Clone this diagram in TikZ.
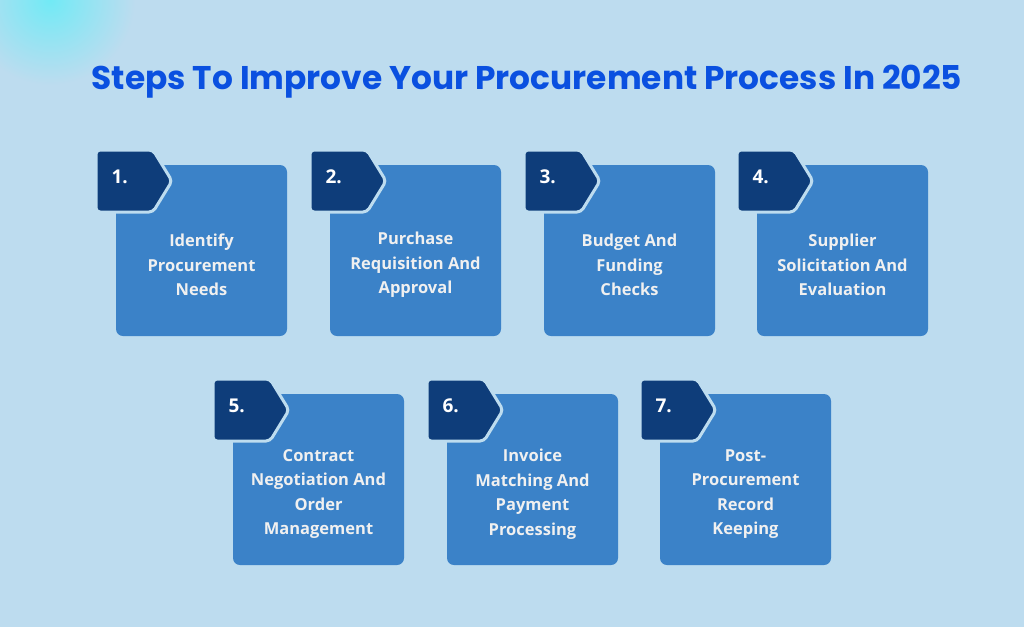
\documentclass[tikz,border=0pt]{standalone}
\usepackage{fontspec}
\setmainfont{Open Sans}
\newfontfamily\titlefont{Poppins}
\definecolor{bgblue}{HTML}{BDDCEF}
\definecolor{cardblue}{HTML}{3B82C8}
\definecolor{tagblue}{HTML}{0E3D7A}
\definecolor{titleblue}{HTML}{0A50E0}
\tikzset{
  card/.style={fill=cardblue, rounded corners=7pt},
  tag/.style={fill=tagblue, draw=bgblue, line width=3pt, rounded corners=4pt},
  cardtext/.style={text=white!94!black, font=\fontsize{16.5}{24.5}\selectfont\bfseries, align=center},
  num/.style={text=white, font=\fontsize{19}{22}\selectfont\bfseries, anchor=west}
}
\begin{document}
\begin{tikzpicture}[x=1pt, y=-1pt]
  %background
  \fill[bgblue] (0,0) rectangle (1024,627);
  \useasboundingbox (0,0) rectangle (1024,627);
  \begin{scope}
    \clip (0,0) rectangle (1024,627);
    \shade[inner color=cyan!40!bgblue, outer color=bgblue] (50,0) circle (85pt);
  \end{scope}
  \node[text=titleblue, font=\titlefont\fontsize{32.8}{36}\selectfont\bfseries] (title) at (527,82) {Steps To Improve Your Procurement Process In 2025};
  %steps
  \foreach \x/\y/\n/\txt in {
      116/165/1/{Identify\\Procurement\\Needs},
      330/165/2/{Purchase\\Requisition And\\Approval},
      544/165/3/{Budget And\\Funding\\Checks},
      757/165/4/{Supplier\\Solicitation And\\Evaluation},
      233/394/5/{Contract\\Negotiation And\\Order\\Management},
      447/394/6/{Invoice\\Matching And\\Payment\\Processing},
      660/394/7/{Post-\\Procurement\\Record\\Keeping}} {
    \fill[card] (\x,\y) rectangle ++(171,171);
    \node[cardtext] (step\n) at (\x+85.5,\y+100) {\txt};
    \draw[tag] (\x-20,\y-15) -- ++(57,0) -- ++(19,31) -- ++(-19,31) -- ++(-57,0) -- cycle;
    \node[num] (num\n) at (\x-8,\y+12) {\n.};
  }
\end{tikzpicture}
\end{document}
